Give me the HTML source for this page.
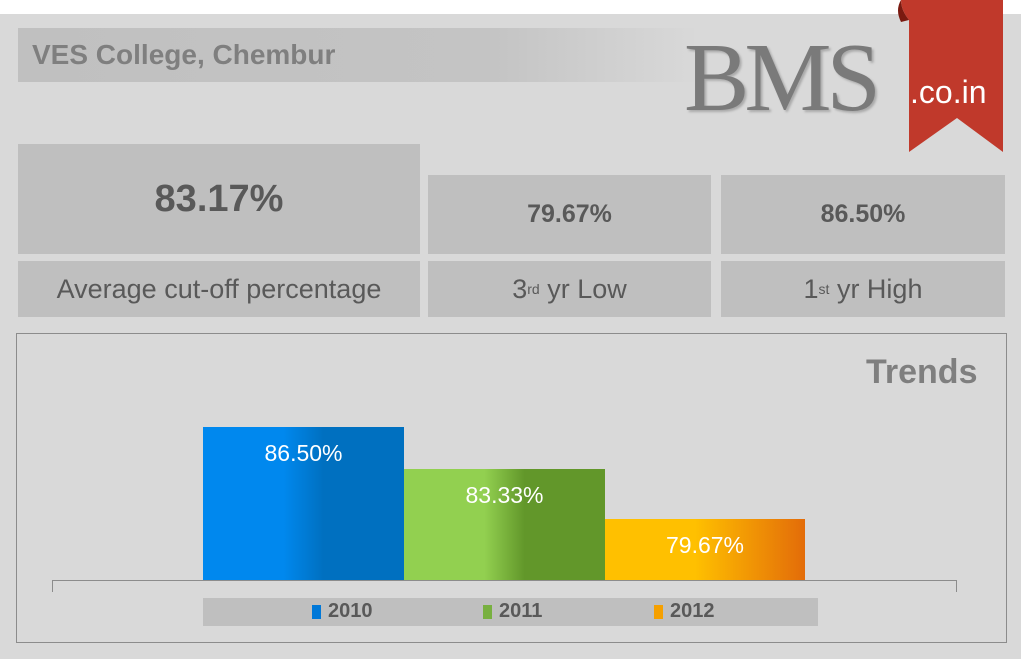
<!DOCTYPE html>
<html><head><meta charset="utf-8"><style>
body{margin:0;width:1024px;height:660px;background:#fff;position:relative;overflow:hidden;font-family:"Liberation Sans",sans-serif}
.a{position:absolute}
.box{position:absolute;background:#bfbfbf;color:#595959;display:flex;align-items:center;justify-content:center}
sup{font-size:14px;vertical-align:10px}
</style></head><body>
<div class="a" style="left:0;top:14px;width:1021px;height:645px;background:#d9d9d9"></div>
<div class="a" style="left:18px;top:28px;width:680px;height:54px;background:linear-gradient(90deg,#c0c0c0 0%,#c4c4c4 70%,#d9d9d9 100%)"></div>
<div class="a" style="left:32px;top:39px;font-size:28px;font-weight:bold;color:#7f7f7f">VES College, Chembur</div>
<div class="a" style="left:684px;top:28px;font-family:'Liberation Serif',serif;font-size:98px;color:#7a7a7a;letter-spacing:-5px;line-height:100px;text-shadow:2px 2px 2px #aaa">BMS</div>
<svg class="a" style="left:895px;top:0" width="112" height="155"><path d="M6 0 H108 V152 L62 118 L14 152 V20 Q6 10 6 0Z" fill="#c0392b"/><path d="M6 0 Q0 10 6 22 L14 20 Q6 10 6 0Z" fill="#7a1a10"/></svg>
<div class="a" style="left:910px;top:74px;font-size:32px;color:#fff">.co.in</div>
<div class="box" style="left:18px;top:144px;width:402px;height:110px;font-size:38px;font-weight:bold">83.17%</div>
<div class="box" style="left:428px;top:175px;width:283px;height:79px;font-size:25px;font-weight:bold">79.67%</div>
<div class="box" style="left:721px;top:175px;width:284px;height:79px;font-size:25px;font-weight:bold">86.50%</div>
<div class="box" style="left:18px;top:261px;width:402px;height:56px;font-size:27px">Average cut-off percentage</div>
<div class="box" style="left:428px;top:261px;width:283px;height:56px;font-size:27px">3<sup>rd</sup>&nbsp;yr Low</div>
<div class="box" style="left:721px;top:261px;width:284px;height:56px;font-size:27px">1<sup>st</sup>&nbsp;yr High</div>
<div class="a" style="left:16px;top:333px;width:989px;height:308px;border:1.5px solid #8c8c8c"></div>
<div class="a" style="left:866px;top:353px;font-size:34px;font-weight:bold;color:#7f7f7f">Trends</div>
<div class="a" style="left:203px;top:427px;width:201px;height:153px;background:linear-gradient(90deg,#0088ee 0%,#0088ee 40%,#0070c0 60%,#0070c0 100%)"></div>
<div class="a" style="left:404px;top:469px;width:201px;height:111px;background:linear-gradient(90deg,#92d050 0%,#92d050 40%,#62972a 60%,#62972a 100%)"></div>
<div class="a" style="left:605px;top:519px;width:200px;height:61px;background:linear-gradient(90deg,#ffc000 0%,#ffc000 45%,#e36c09 100%)"></div>
<div class="a" style="left:203px;top:440px;width:201px;text-align:center;color:#fff;font-size:23px">86.50%</div>
<div class="a" style="left:404px;top:482px;width:201px;text-align:center;color:#fff;font-size:23px">83.33%</div>
<div class="a" style="left:605px;top:532px;width:200px;text-align:center;color:#fff;font-size:23px">79.67%</div>
<div class="a" style="left:52px;top:580px;width:905px;height:1px;background:#8c8c8c"></div>
<div class="a" style="left:52px;top:580px;width:1px;height:12px;background:#8c8c8c"></div>
<div class="a" style="left:956px;top:580px;width:1px;height:12px;background:#8c8c8c"></div>
<div class="a" style="left:203px;top:598px;width:615px;height:28px;background:#bfbfbf"></div>
<div class="a" style="left:312px;top:605px;width:9px;height:14px;background:#0078d8"></div>
<div class="a" style="left:328px;top:600px;font-size:20px;font-weight:bold;color:#595959">2010</div>
<div class="a" style="left:483px;top:605px;width:9px;height:14px;background:#78b040"></div>
<div class="a" style="left:499px;top:600px;font-size:20px;font-weight:bold;color:#595959">2011</div>
<div class="a" style="left:654px;top:605px;width:9px;height:14px;background:#f5a000"></div>
<div class="a" style="left:670px;top:600px;font-size:20px;font-weight:bold;color:#595959">2012</div>
</body></html>
